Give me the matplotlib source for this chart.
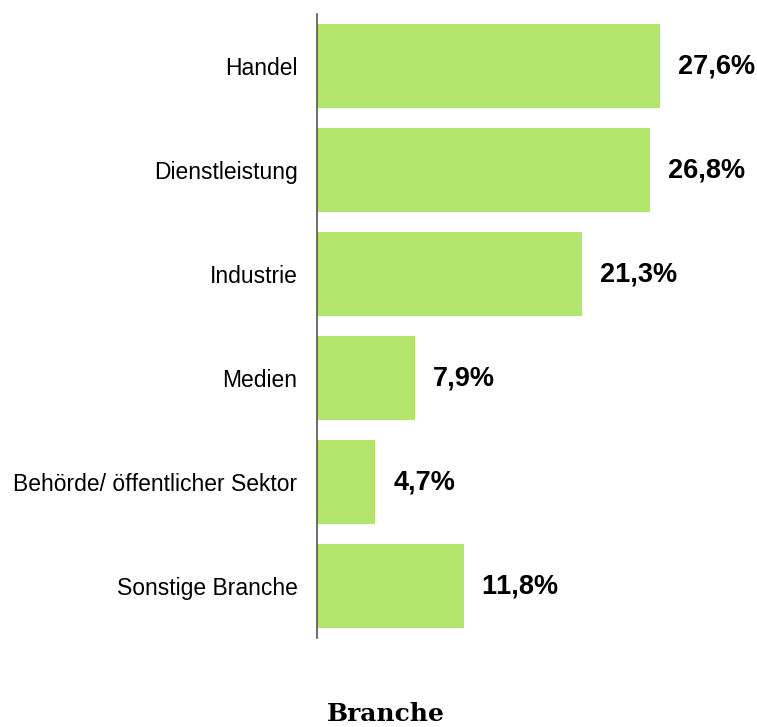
import matplotlib

matplotlib.use("Agg")
import matplotlib.pyplot as plt  # noqa: E402

# switch off pair kerning so "11,8%" isn't squeezed together
plt.rcParams["text.kerning_factor"] = 6

categories = [
    "Handel",
    "Dienstleistung",
    "Industrie",
    "Medien",
    "Behörde/ öffentlicher Sektor",
    "Sonstige Branche",
]
shares = [27.6, 26.8, 21.3, 7.9, 4.7, 11.8]
value_labels = ["27,6%", "26,8%", "21,3%", "7,9%", "4,7%", "11,8%"]

W, H = 757, 727
fig = plt.figure(figsize=(W / 100, H / 100), dpi=100)
ax = fig.add_axes([317 / W, 1 - 638 / H, 1 - 317 / W, (638 - 14) / H])

pos = list(range(len(categories)))
ax.barh(pos, shares, height=0.8, color="#b3e56b")
ax.set_ylim(len(categories) - 0.5, -0.5)
ax.set_xlim(0, 440 / 12.43)

for p, v, lab in zip(pos, shares, value_labels):
    ax.annotate(lab, xy=(v, p), xytext=(13, 0), textcoords="offset points",
                ha="left", va="center", fontsize=19.5, fontweight="bold",
                family="Liberation Sans")

ax.set_yticks(pos)
ax.set_yticklabels(categories, family="Liberation Sans", fontsize=16.5)
ax.tick_params(axis="y", length=0, pad=14)
ax.set_xticks([])
for s in ("top", "right", "bottom"):
    ax.spines[s].set_visible(False)
ax.spines["left"].set_color("#555555")
ax.spines["left"].set_linewidth(1.2)

fig.text(386 / W, 1 - 714 / H, "Branche", ha="center", va="center",
         family="DejaVu Serif", fontweight="bold", fontsize=18)

fig.savefig("out.png", dpi=100)
